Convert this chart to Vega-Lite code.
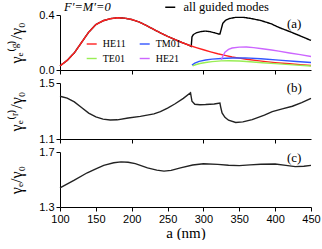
{
  "$schema": "https://vega.github.io/schema/vega-lite/v6.json",
  "padding": {"left": 8, "top": 0, "right": 0, "bottom": 0},
  "spacing": 13,
  "bounds": "flush",
  "config": {
    "view": {"stroke": null},
    "axis": {
      "domainColor": "black", "tickColor": "black", "labelColor": "black",
      "labelFont": "Liberation Sans", "labelFontSize": 11, "labelPadding": 2,
      "titleFont": "Liberation Serif", "titleFontSize": 16, "titleFontWeight": "normal", "titleColor": "black",
      "grid": false, "tickSize": 4
    },
    "line": {"strokeWidth": 1.4}
  },
  "datasets": {
    "modes": [
      {"a": 100, "v": 0.03, "mode": "HE11"}, {"a": 110, "v": 0.07, "mode": "HE11"}, {"a": 120, "v": 0.125, "mode": "HE11"},
      {"a": 130, "v": 0.2, "mode": "HE11"}, {"a": 140, "v": 0.275, "mode": "HE11"}, {"a": 150, "v": 0.33, "mode": "HE11"},
      {"a": 160, "v": 0.358, "mode": "HE11"}, {"a": 170, "v": 0.373, "mode": "HE11"}, {"a": 180, "v": 0.38, "mode": "HE11"},
      {"a": 190, "v": 0.377, "mode": "HE11"}, {"a": 200, "v": 0.367, "mode": "HE11"}, {"a": 210, "v": 0.35, "mode": "HE11"},
      {"a": 220, "v": 0.325, "mode": "HE11"}, {"a": 230, "v": 0.297, "mode": "HE11"}, {"a": 240, "v": 0.27, "mode": "HE11"},
      {"a": 250, "v": 0.245, "mode": "HE11"}, {"a": 260, "v": 0.222, "mode": "HE11"}, {"a": 270, "v": 0.2, "mode": "HE11"},
      {"a": 280, "v": 0.18, "mode": "HE11"}, {"a": 290, "v": 0.163, "mode": "HE11"}, {"a": 300, "v": 0.147, "mode": "HE11"},
      {"a": 310, "v": 0.132, "mode": "HE11"}, {"a": 320, "v": 0.118, "mode": "HE11"}, {"a": 330, "v": 0.106, "mode": "HE11"},
      {"a": 340, "v": 0.095, "mode": "HE11"}, {"a": 350, "v": 0.086, "mode": "HE11"}, {"a": 360, "v": 0.078, "mode": "HE11"},
      {"a": 375, "v": 0.068, "mode": "HE11"}, {"a": 390, "v": 0.059, "mode": "HE11"}, {"a": 400, "v": 0.054, "mode": "HE11"},
      {"a": 420, "v": 0.045, "mode": "HE11"}, {"a": 435, "v": 0.039, "mode": "HE11"}, {"a": 450, "v": 0.033, "mode": "HE11"},
      {"a": 284, "v": 0.035, "mode": "TM01"}, {"a": 288, "v": 0.05, "mode": "TM01"}, {"a": 294, "v": 0.063, "mode": "TM01"},
      {"a": 303, "v": 0.073, "mode": "TM01"}, {"a": 312, "v": 0.079, "mode": "TM01"}, {"a": 325, "v": 0.084, "mode": "TM01"},
      {"a": 340, "v": 0.087, "mode": "TM01"}, {"a": 358, "v": 0.088, "mode": "TM01"}, {"a": 380, "v": 0.082, "mode": "TM01"},
      {"a": 405, "v": 0.072, "mode": "TM01"}, {"a": 430, "v": 0.062, "mode": "TM01"}, {"a": 450, "v": 0.055, "mode": "TM01"},
      {"a": 285, "v": 0.03, "mode": "TE01"}, {"a": 290, "v": 0.04, "mode": "TE01"}, {"a": 295, "v": 0.047, "mode": "TE01"},
      {"a": 303, "v": 0.055, "mode": "TE01"}, {"a": 312, "v": 0.061, "mode": "TE01"}, {"a": 325, "v": 0.066, "mode": "TE01"},
      {"a": 335, "v": 0.067, "mode": "TE01"}, {"a": 350, "v": 0.065, "mode": "TE01"}, {"a": 365, "v": 0.06, "mode": "TE01"},
      {"a": 382, "v": 0.053, "mode": "TE01"}, {"a": 400, "v": 0.046, "mode": "TE01"}, {"a": 425, "v": 0.037, "mode": "TE01"},
      {"a": 450, "v": 0.029, "mode": "TE01"},
      {"a": 325, "v": 0.075, "mode": "HE21"}, {"a": 327, "v": 0.1, "mode": "HE21"}, {"a": 330, "v": 0.13, "mode": "HE21"},
      {"a": 335, "v": 0.15, "mode": "HE21"}, {"a": 340, "v": 0.16, "mode": "HE21"}, {"a": 350, "v": 0.166, "mode": "HE21"},
      {"a": 360, "v": 0.167, "mode": "HE21"}, {"a": 370, "v": 0.163, "mode": "HE21"}, {"a": 382, "v": 0.155, "mode": "HE21"},
      {"a": 395, "v": 0.145, "mode": "HE21"}, {"a": 405, "v": 0.137, "mode": "HE21"}, {"a": 420, "v": 0.124, "mode": "HE21"},
      {"a": 435, "v": 0.112, "mode": "HE21"}, {"a": 450, "v": 0.098, "mode": "HE21"}
    ],
    "total": [
      {"a": 100, "v": 0.03}, {"a": 110, "v": 0.07}, {"a": 120, "v": 0.125}, {"a": 130, "v": 0.2}, {"a": 140, "v": 0.275},
      {"a": 150, "v": 0.33}, {"a": 160, "v": 0.358}, {"a": 170, "v": 0.373}, {"a": 180, "v": 0.38}, {"a": 190, "v": 0.377},
      {"a": 200, "v": 0.367}, {"a": 210, "v": 0.35}, {"a": 220, "v": 0.325}, {"a": 230, "v": 0.297}, {"a": 240, "v": 0.27},
      {"a": 250, "v": 0.245}, {"a": 260, "v": 0.222}, {"a": 270, "v": 0.2}, {"a": 280, "v": 0.18}, {"a": 283, "v": 0.172},
      {"a": 284, "v": 0.24}, {"a": 286, "v": 0.258}, {"a": 290, "v": 0.27}, {"a": 296, "v": 0.279}, {"a": 303, "v": 0.283},
      {"a": 310, "v": 0.278}, {"a": 316, "v": 0.27}, {"a": 321, "v": 0.262}, {"a": 323, "v": 0.262}, {"a": 325, "v": 0.3},
      {"a": 327, "v": 0.34}, {"a": 331, "v": 0.362}, {"a": 336, "v": 0.374}, {"a": 345, "v": 0.383}, {"a": 355, "v": 0.383},
      {"a": 365, "v": 0.376}, {"a": 380, "v": 0.36}, {"a": 395, "v": 0.335}, {"a": 405, "v": 0.31}, {"a": 420, "v": 0.28},
      {"a": 435, "v": 0.248}, {"a": 450, "v": 0.215}
    ],
    "rad": [
      {"a": 100, "v": 1.405}, {"a": 110, "v": 1.392}, {"a": 120, "v": 1.365}, {"a": 130, "v": 1.325}, {"a": 140, "v": 1.285},
      {"a": 150, "v": 1.258}, {"a": 160, "v": 1.242}, {"a": 170, "v": 1.236}, {"a": 180, "v": 1.237}, {"a": 195, "v": 1.25},
      {"a": 212, "v": 1.262}, {"a": 231, "v": 1.279}, {"a": 240, "v": 1.295}, {"a": 250, "v": 1.321}, {"a": 260, "v": 1.35},
      {"a": 272, "v": 1.39}, {"a": 282, "v": 1.43}, {"a": 283, "v": 1.4}, {"a": 284, "v": 1.37}, {"a": 288, "v": 1.348},
      {"a": 295, "v": 1.345}, {"a": 303, "v": 1.346}, {"a": 315, "v": 1.35}, {"a": 323, "v": 1.357}, {"a": 324, "v": 1.33},
      {"a": 326, "v": 1.286}, {"a": 330, "v": 1.255}, {"a": 335, "v": 1.234}, {"a": 345, "v": 1.218}, {"a": 355, "v": 1.222},
      {"a": 368, "v": 1.238}, {"a": 385, "v": 1.27}, {"a": 396, "v": 1.295}, {"a": 410, "v": 1.315}, {"a": 424, "v": 1.334},
      {"a": 437, "v": 1.36}, {"a": 450, "v": 1.39}
    ],
    "tot": [
      {"a": 100, "v": 1.439}, {"a": 120, "v": 1.495}, {"a": 138, "v": 1.549}, {"a": 150, "v": 1.578}, {"a": 161, "v": 1.603},
      {"a": 175, "v": 1.622}, {"a": 185, "v": 1.628}, {"a": 195, "v": 1.625}, {"a": 205, "v": 1.615}, {"a": 222, "v": 1.585},
      {"a": 235, "v": 1.568}, {"a": 245, "v": 1.561}, {"a": 255, "v": 1.566}, {"a": 268, "v": 1.585}, {"a": 285, "v": 1.605},
      {"a": 300, "v": 1.614}, {"a": 320, "v": 1.61}, {"a": 335, "v": 1.604}, {"a": 350, "v": 1.601}, {"a": 365, "v": 1.606},
      {"a": 380, "v": 1.611}, {"a": 400, "v": 1.613}, {"a": 415, "v": 1.603}, {"a": 428, "v": 1.594}, {"a": 440, "v": 1.596},
      {"a": 450, "v": 1.603}
    ],
    "one": [{}]
  },
  "vconcat": [
    {
      "width": 251, "height": 55,
      "layer": [
        {
          "data": {"name": "total"},
          "mark": {"type": "line", "color": "black"},
          "encoding": {
            "x": {"field": "a", "type": "quantitative", "scale": {"domain": [100, 450], "nice": false},
                  "axis": {"values": [100, 150, 200, 250, 300, 350, 400, 450], "labels": false, "title": null}},
            "y": {"field": "v", "type": "quantitative", "scale": {"domain": [0, 0.4], "nice": false},
                  "axis": {"values": [0, 0.2, 0.4], "format": ".1f", "title": "γₑ⁽ᵍ⁾/γ₀", "titlePadding": 14}},
            "strokeDash": {"datum": "all guided modes", "scale": {"range": [[1, 0]]},
              "legend": {"orient": "none", "legendX": 104, "legendY": -14, "title": null, "symbolType": "stroke",
                "symbolStrokeColor": "black", "symbolSize": 100, "symbolStrokeWidth": 1.4, "labelOffset": 7,
                "labelFont": "Liberation Serif", "labelFontSize": 12.5, "labelColor": "black", "padding": 0}}
          }
        },
        {
          "data": {"name": "modes"},
          "mark": {"type": "line"},
          "encoding": {
            "x": {"field": "a", "type": "quantitative"},
            "y": {"field": "v", "type": "quantitative"},
            "color": {"field": "mode", "type": "nominal",
              "scale": {"domain": ["HE11", "TM01", "TE01", "HE21"], "range": ["#ff2020", "#3355ff", "#99ee55", "#cc66ff"]},
              "legend": {"orient": "none", "legendX": 25.7, "legendY": 23, "title": null, "columns": 2, "columnPadding": 11,
                "values": ["HE11", "TE01", "TM01", "HE21"],
                "rowPadding": 3.5, "symbolType": "stroke", "symbolSize": 100, "symbolStrokeWidth": 1.4, "labelOffset": 5,
                "labelFont": "Liberation Serif", "labelFontSize": 10, "labelColor": "black", "padding": 0}}
          }
        },
        {
          "data": {"name": "one"},
          "mark": {"type": "text", "font": "Liberation Serif", "fontSize": 12.5, "fontStyle": "italic", "align": "left", "baseline": "middle", "color": "black"},
          "encoding": {"x": {"datum": 105.6}, "y": {"datum": 0.459}, "text": {"value": "F′=M′=0"}}
        },
        {
          "data": {"name": "one"},
          "mark": {"type": "text", "font": "Liberation Serif", "fontSize": 13, "align": "center", "baseline": "middle", "color": "black"},
          "encoding": {"x": {"datum": 426.6}, "y": {"datum": 0.336}, "text": {"value": "(a)"}}
        }
      ]
    },
    {
      "width": 251, "height": 56,
      "layer": [
        {
          "data": {"name": "rad"},
          "mark": {"type": "line", "color": "#222222"},
          "encoding": {
            "x": {"field": "a", "type": "quantitative", "scale": {"domain": [100, 450], "nice": false},
                  "axis": {"values": [100, 150, 200, 250, 300, 350, 400, 450], "labels": false, "title": null}},
            "y": {"field": "v", "type": "quantitative", "scale": {"domain": [1.1, 1.5], "nice": false, "zero": false},
                  "axis": {"values": [1.1, 1.3, 1.5], "format": ".1f", "title": "γₑ⁽ʳ⁾/γ₀", "titlePadding": 14}}
          }
        },
        {
          "data": {"name": "one"},
          "mark": {"type": "text", "font": "Liberation Serif", "fontSize": 13, "align": "center", "baseline": "middle", "color": "black"},
          "encoding": {"x": {"datum": 426.6}, "y": {"datum": 1.462}, "text": {"value": "(b)"}}
        }
      ]
    },
    {
      "width": 251, "height": 55,
      "layer": [
        {
          "data": {"name": "tot"},
          "mark": {"type": "line", "color": "#222222"},
          "encoding": {
            "x": {"field": "a", "type": "quantitative", "scale": {"domain": [100, 450], "nice": false},
                  "axis": {"tickCount": 8, "format": "d", "labelOverlap": false, "labelSeparation": 0, "labelFlush": false, "labelBound": false,
                           "title": "a (nm)", "titleFontSize": 15, "titlePadding": 1}},
            "y": {"field": "v", "type": "quantitative", "scale": {"domain": [1.3, 1.7], "nice": false, "zero": false},
                  "axis": {"values": [1.3, 1.5, 1.7], "format": ".1f", "title": "γₑ/γ₀", "titlePadding": 14}}
          }
        },
        {
          "data": {"name": "one"},
          "mark": {"type": "text", "font": "Liberation Serif", "fontSize": 13, "align": "center", "baseline": "middle", "color": "black"},
          "encoding": {"x": {"datum": 426.6}, "y": {"datum": 1.656}, "text": {"value": "(c)"}}
        }
      ]
    }
  ]
}
